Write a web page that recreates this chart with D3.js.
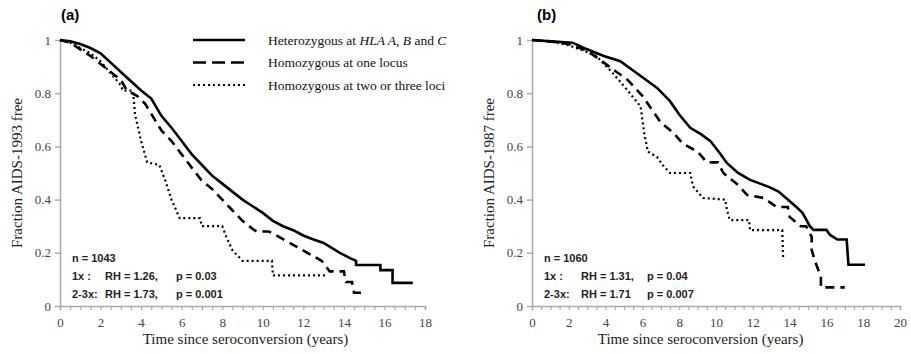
<!DOCTYPE html>
<html>
<head>
<meta charset="utf-8">
<script src="https://cdn.jsdelivr.net/npm/d3@7"></script>
<style>
  body { margin: 0; background: #fff; }
  .tick text { font-family: "Liberation Serif", serif; font-size: 13px; fill: #444; }
  .ann { font-family: "Liberation Sans", Arial, sans-serif; font-size: 11px; font-weight: bold; fill: #222; }
</style>
</head>
<body>
<svg id="chart" width="911" height="354"></svg>
<script>
// curve points [years, fraction free] (flat steps given by both corners)
var hetA = [[0,1],[0.5,0.995],[1,0.985],[1.5,0.97],[2,0.95],[2.5,0.915],[3,0.88],[3.5,0.845],[4,0.81],[4.5,0.78],[5,0.715],[5.5,0.67],[6,0.62],[6.5,0.57],[7,0.53],[7.5,0.49],[8,0.46],[8.5,0.43],[9,0.40],[9.5,0.375],[10,0.35],[10.5,0.32],[11,0.30],[11.5,0.285],[12,0.265],[12.5,0.25],[13,0.237],[13.8,0.20],[14.3,0.18],[14.6,0.17],[14.6,0.154],[15.8,0.154],[15.8,0.135],[16.4,0.135],[16.4,0.087],[17.4,0.087]];
var oneA = [[0,1],[0.5,0.99],[1,0.965],[1.5,0.94],[2,0.91],[2.5,0.88],[3,0.85],[3.3,0.81],[3.8,0.79],[4.2,0.76],[4.6,0.71],[5,0.66],[5.5,0.62],[6,0.57],[6.5,0.52],[7,0.47],[7.5,0.44],[8,0.40],[8.5,0.36],[9,0.32],[9.5,0.29],[9.7,0.28],[10.3,0.28],[10.8,0.26],[11.5,0.23],[12.2,0.20],[12.9,0.17],[13.3,0.13],[14.0,0.13],[14.1,0.09],[14.4,0.09],[14.5,0.05],[15.1,0.05]];
var twoA = [[0,1],[0.5,0.99],[1,0.97],[1.5,0.95],[2,0.92],[2.5,0.875],[3,0.83],[3.1,0.81],[3.6,0.81],[3.7,0.72],[4,0.62],[4.3,0.54],[4.9,0.53],[5.2,0.47],[5.5,0.40],[5.9,0.33],[6.9,0.33],[7,0.30],[8,0.30],[8.2,0.26],[8.5,0.21],[9,0.17],[10.45,0.17],[10.5,0.115],[13.2,0.115]];

var hetB = [[0,1],[1,0.995],[2.2,0.99],[3,0.965],[3.9,0.94],[4.8,0.92],[5.7,0.875],[6.8,0.82],[7.5,0.77],[8,0.72],[8.6,0.67],[9.2,0.645],[9.7,0.62],[10.2,0.575],[10.6,0.537],[11.2,0.50],[11.85,0.474],[12.4,0.46],[12.9,0.447],[13.4,0.43],[13.9,0.40],[14.4,0.37],[14.7,0.35],[15.1,0.30],[15.3,0.286],[16.0,0.286],[16.2,0.267],[16.6,0.25],[17.1,0.25],[17.2,0.155],[18.1,0.155]];
var oneB = [[0,1],[1,0.995],[2,0.985],[3,0.96],[3.6,0.93],[4.2,0.90],[5.2,0.85],[6,0.79],[6.5,0.74],[7,0.69],[7.7,0.65],[8.2,0.61],[9,0.58],[9.5,0.54],[10.1,0.54],[10.4,0.50],[11.2,0.455],[11.7,0.417],[12.6,0.406],[13.3,0.372],[13.9,0.372],[14,0.335],[14.6,0.30],[14.9,0.30],[15.2,0.26],[15.2,0.21],[15.4,0.165],[15.7,0.11],[15.7,0.07],[17,0.07]];
var twoB = [[0,1],[1,0.995],[2,0.98],[3,0.955],[3.5,0.94],[4.4,0.875],[5.2,0.81],[5.9,0.75],[6.1,0.65],[6.3,0.58],[6.8,0.56],[7.1,0.53],[7.5,0.50],[8.6,0.50],[8.75,0.45],[9.3,0.406],[10.5,0.40],[10.6,0.36],[10.75,0.323],[11.8,0.323],[11.85,0.285],[13.6,0.285],[13.65,0.18],[13.7,0.18]];

var legendLabels = ["Heterozygous at ", "Homozygous at one locus", "Homozygous at two or three loci"];
var yTicks = [0, 0.2, 0.4, 0.6, 0.8, 1];

var svg = d3.select("#chart");

// line styles for the three groups
var styles = [
  {width: 2.6, dash: null},
  {width: 2.6, dash: "9,6"},
  {width: 2.2, dash: "2,3"}
];

function panel(opt) {
  var x = d3.scaleLinear().domain([0, opt.xMax]).range(opt.xRange);
  var y = d3.scaleLinear().domain([0, 1]).range([306, 40]);
  var g = svg.append("g");

  // x axis with minor ticks
  var xAx = g.append("g")
    .attr("transform", "translate(0,306)")
    .call(d3.axisBottom(x).tickValues(d3.range(0, opt.xMax + 0.01, 0.5)).tickSize(4)
      .tickFormat(d => d % 2 === 0 ? d : ""));
  xAx.selectAll(".tick text").attr("dy", "1.05em");
  xAx.select(".domain").attr("stroke", "#aaa").attr("stroke-width", 1.5);
  xAx.selectAll(".tick line").attr("stroke", "#aaa").attr("stroke-width", 1.2);

  var yAx = g.append("g")
    .attr("transform", "translate(" + opt.xRange[0] + ",0)")
    .call(d3.axisLeft(y).tickValues(yTicks).tickSize(5).tickSizeOuter(0)
      .tickFormat(d => d === 0 || d === 1 ? d : d3.format(".1f")(d)));
  yAx.select(".domain").attr("stroke", "#aaa").attr("stroke-width", 1.5);
  yAx.selectAll(".tick line").attr("stroke", "#aaa").attr("stroke-width", 1.5);
  yAx.selectAll(".tick text").attr("x", -9);

  var line = d3.line().x(d => x(d[0])).y(d => y(d[1]));

  opt.series.forEach(function(s, i) {
    g.append("path")
      .attr("d", line(s))
      .attr("fill", "none")
      .attr("stroke", "#000")
      .attr("stroke-width", styles[i].width)
      .attr("stroke-dasharray", styles[i].dash);
  });

  g.append("text")
    .attr("x", opt.xRange[0] + opt.tagOff).attr("y", 20)
    .attr("font-family", "Liberation Sans, Arial, sans-serif")
    .attr("font-size", 15).attr("font-weight", "bold")
    .text(opt.tag);

  g.append("text")
    .attr("transform", "translate(" + (opt.xRange[0] - 38) + ",173) rotate(-90)")
    .attr("text-anchor", "middle")
    .attr("font-family", "Liberation Serif, serif").attr("font-size", 15).attr("fill", "#222")
    .text(opt.yLabel);

  g.append("text")
    .attr("x", (opt.xRange[0] + x(18)) / 2 + 3).attr("y", 344)
    .attr("text-anchor", "middle")
    .attr("font-family", "Liberation Serif, serif").attr("font-size", 15).attr("fill", "#222")
    .text("Time since seroconversion (years)");

  // annotation block
  var ax = opt.xRange[0] + 12;
  g.append("text").attr("class", "ann").attr("x", ax).attr("y", 262).text(opt.n);
  opt.rows.forEach(function(r, i) {
    var yy = 280 + i * 18;
    g.append("text").attr("class", "ann").attr("x", ax).attr("y", yy).text(r[0]);
    g.append("text").attr("class", "ann").attr("x", ax + opt.rhOff).attr("y", yy).text(r[1]);
    g.append("text").attr("class", "ann").attr("x", ax + opt.pOff).attr("y", yy).text(r[2]);
  });
}

panel({
  xMax: 18, xRange: [60, 425], tag: "(a)", tagOff: 1, yLabel: "Fraction AIDS-1993 free",
  series: [hetA, oneA, twoA], n: "n = 1043", rhOff: 33, pOff: 104,
  rows: [["1x :", "RH = 1.26,", "p = 0.03"], ["2-3x:", "RH = 1.73,", "p = 0.001"]]
});
panel({
  xMax: 20, xRange: [532, 900], tag: "(b)", tagOff: 5, yLabel: "Fraction AIDS-1987 free",
  series: [hetB, oneB, twoB], n: "n = 1060", rhOff: 37, pOff: 103,
  rows: [["1x :", "RH = 1.31,", "p = 0.04"], ["2-3x:", "RH = 1.71", "p = 0.007"]]
});

// legend
var leg = svg.append("g");
legendLabels.forEach(function(lab, i) {
  var yy = 40 + i * 22.5;
  leg.append("line")
    .attr("x1", 193).attr("x2", 245).attr("y1", yy).attr("y2", yy)
    .attr("stroke", "#000")
    .attr("stroke-width", styles[i].width)
    .attr("stroke-dasharray", i === 1 ? "13,6" : styles[i].dash);
  var t = leg.append("text")
    .attr("x", 268).attr("y", yy + 4.5)
    .attr("font-family", "Liberation Serif, serif").attr("font-size", 13.5).attr("fill", "#111");
  t.append("tspan").text(lab);
  if (i === 0) {
    t.append("tspan").attr("font-style", "italic").text("HLA A");
    t.append("tspan").text(", ");
    t.append("tspan").attr("font-style", "italic").text("B");
    t.append("tspan").text(" and ");
    t.append("tspan").attr("font-style", "italic").text("C");
  }
});
</script>
</body>
</html>
